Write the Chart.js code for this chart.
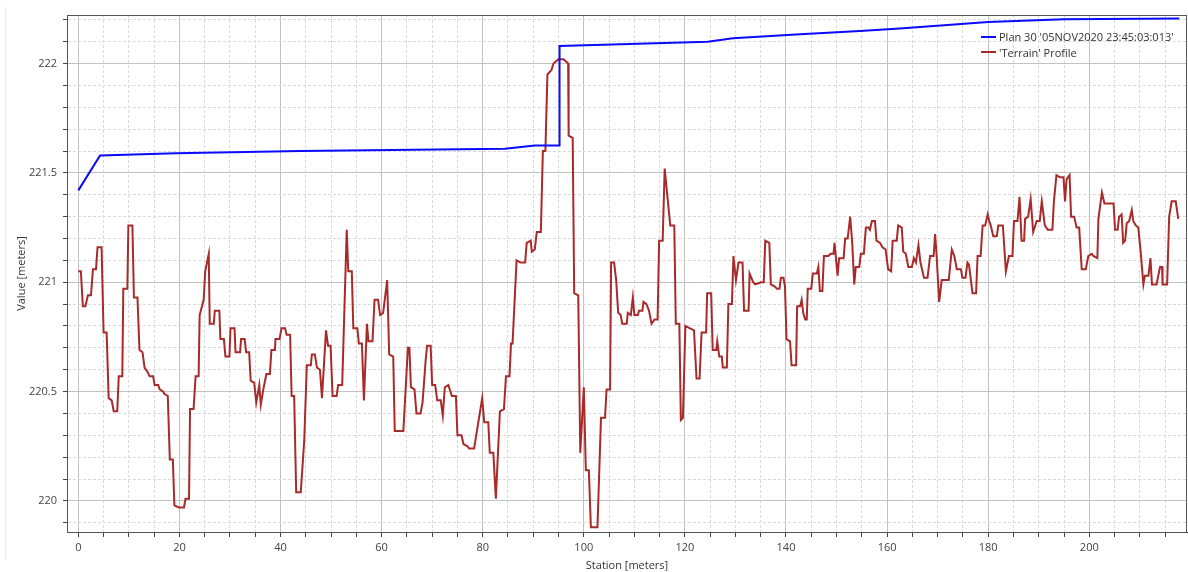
<!DOCTYPE html>
<html>
<head>
<meta charset="utf-8">
<script src="https://cdn.jsdelivr.net/npm/chart.js@4.4.0/dist/chart.umd.min.js"></script>
<style>
  body { margin: 0; background: #fff; }
  #wrap { position: relative; width: 1188px; height: 572px; }
  #edge { position: absolute; left: 5px; top: 7px; height: 553px; border-left: 1px solid #ececec; }
  #legend { position: absolute; left: 981px; top: 29px; font: 11px "Open Sans", sans-serif; color: #333; }
  #legend .item { display: flex; align-items: center; height: 15.5px; white-space: nowrap; }
  #legend .swatch { width: 15px; height: 2px; margin-right: 3px; }
</style>
</head>
<body>
<div id="wrap">
  <div id="edge"></div>
  <canvas id="profile" width="1188" height="572"></canvas>
  <div id="legend"></div>
</div>
<script>
// water surface along the reach
const wseStation = [0.0, 4.3, 19.3, 44.0, 84.4, 90.3, 95.1, 95.2, 124.5, 129.5, 142.8, 154.6, 162.5, 180.0, 195.0, 217.8];
const wseElev = [221.42, 221.58, 221.59, 221.60, 221.61, 221.625, 221.625, 222.08, 222.10, 222.116, 222.134, 222.149, 222.16, 222.19, 222.203, 222.206];

// ground profile
const terrainStation = [
  0.0, 0.5, 0.9, 1.4, 1.9, 2.5, 2.9, 3.5, 3.8, 4.6, 5.0, 5.6, 6.0, 6.6, 7.0, 7.7, 8.0, 8.7, 8.9, 9.7,
  9.9, 10.7, 11.0, 11.7, 12.1, 12.7, 13.1, 13.7, 14.1, 14.8, 15.1, 15.8, 16.1, 16.8, 17.0, 17.7, 18.1, 18.7, 19.0, 19.9,
  20.3, 20.9, 21.2, 21.9, 22.1, 22.8, 23.2, 23.8, 24.0, 24.8, 25.1, 25.8, 26.0, 26.8, 27.0, 27.9, 28.1, 28.8, 29.1, 29.9,
  30.1, 30.9, 31.1, 32.0, 32.2, 32.9, 33.2, 33.8, 34.1, 34.8, 35.2, 35.8, 36.1, 36.6, 37.2, 37.9, 38.2, 38.9,
  39.0, 39.8, 40.2, 40.9, 41.2, 41.9, 42.2, 42.7, 43.1, 44.0, 44.3, 44.7, 45.2, 46.0, 46.2, 46.8, 47.2, 47.8, 48.2, 49.0,
  49.4, 49.9, 50.3, 51.1, 51.4, 52.2, 53.1, 53.4, 54.1, 54.4, 55.2, 55.5, 56.1, 56.5, 57.1, 57.4, 58.2, 58.6, 59.3, 59.7,
  60.3, 61.1, 61.5, 62.3, 62.6, 64.3, 65.2, 65.5, 65.8, 66.5, 66.9, 67.7, 68.1, 68.7, 69.0, 69.7, 70.0, 70.6, 71.0, 71.7,
  72.1, 72.5, 73.2, 73.9, 74.7, 75.0, 75.8, 76.2, 77.0, 77.3, 78.3, 79.9, 80.3, 81.1,
  81.4, 82.1, 82.6, 83.4, 84.2, 84.6, 85.3, 85.6, 85.9, 86.7, 87.5, 88.4, 88.7, 89.5, 89.7, 90.3, 90.7, 91.5, 91.9, 92.4,
  92.8, 93.2, 93.6, 94.0, 94.5, 95.0, 95.4, 96.0, 96.9, 97.0, 97.8, 98.1, 98.9, 99.3, 100.0, 100.4, 101.0, 101.4, 102.7, 103.4,
  104.2, 104.5, 105.2, 105.4, 106.0, 106.4, 106.8, 107.3, 107.6, 108.5, 108.7, 109.3, 109.7, 110.0, 110.7, 110.9, 111.6, 111.8, 112.4, 112.9,
  113.4, 114.0, 114.6, 114.9, 115.6, 116.0, 117.1, 117.9, 118.2, 118.9, 119.2, 119.6, 120.1, 120.9, 121.8, 122.3, 122.9,
  123.3, 124.2, 124.4, 125.2, 125.5, 126.2, 126.4, 126.8, 127.3, 127.5, 128.3, 128.6, 129.3, 129.6, 130.1, 130.6, 131.4, 131.7, 132.6, 132.8,
  133.5, 133.9, 135.1, 135.6, 135.9, 136.7, 137.0, 137.8, 138.2, 138.7, 139.0, 139.5, 139.8, 140.1, 140.8, 141.1, 142.0, 142.2, 142.8, 143.1,
  143.4, 143.8, 144.1, 144.3, 145.0, 145.3, 146.1, 146.4, 146.7, 147.2, 147.5, 148.4, 148.8, 149.4, 149.6, 150.2, 150.5, 151.4, 151.7, 152.2,
  152.7, 153.1, 153.5, 153.8, 154.5, 154.8, 155.4, 155.8, 156.3, 156.6, 157.0, 157.6, 157.9, 158.6, 159.1, 159.7, 160.2, 160.8, 161.1, 161.9,
  162.2, 162.9, 163.2, 163.7, 164.2, 164.9, 165.3, 165.7, 166.2, 166.6, 167.3, 168.0, 168.5, 169.2, 169.5, 169.8,
  170.3, 170.8, 171.6, 172.2, 172.8, 173.3, 173.8, 174.6, 174.9, 175.5, 175.9, 176.2, 176.9, 177.6, 177.9, 178.5, 178.9, 179.4, 179.9, 180.2,
  180.5, 181.0, 181.7, 182.0, 182.9, 183.5, 184.1, 184.8, 185.1, 185.8, 186.2, 186.6, 187.1, 187.3, 187.9, 188.4, 188.9, 189.6, 190.2, 190.6,
  191.2, 191.8, 192.7, 193.0, 193.5, 194.2, 194.9, 195.2, 195.5, 196.1, 196.4, 197.0, 197.5, 198.0, 198.5, 199.3, 199.8, 200.5, 200.8, 201.6,
  201.8, 202.5, 203.0, 203.8, 204.8, 205.1, 205.6, 205.9, 206.4, 206.7, 207.1, 207.4, 207.9, 208.4, 208.7, 209.2, 209.7, 210.2, 210.7, 211.0,
  211.7, 212.1, 212.4, 213.3, 214.0, 214.4, 214.5, 215.4, 215.8, 216.3, 217.1, 217.6
];
const terrainElev = [
  221.05, 221.05, 220.89, 220.89, 220.94, 220.94, 221.06, 221.06, 221.16, 221.16, 220.77, 220.77, 220.47, 220.46, 220.41, 220.41, 220.57, 220.57, 220.97, 220.97,
  221.26, 221.26, 220.93, 220.93, 220.69, 220.68, 220.61, 220.59, 220.57, 220.57, 220.53, 220.53, 220.51, 220.50, 220.49, 220.48, 220.19, 220.19, 219.98, 219.97,
  219.97, 219.97, 220.01, 220.01, 220.42, 220.42, 220.57, 220.57, 220.85, 220.92, 221.05, 221.13, 220.81, 220.81, 220.87, 220.87, 220.74, 220.74, 220.66, 220.66,
  220.79, 220.79, 220.68, 220.68, 220.74, 220.74, 220.68, 220.68, 220.55, 220.54, 220.45, 220.53, 220.44, 220.51, 220.58, 220.58, 220.69, 220.69,
  220.74, 220.74, 220.79, 220.79, 220.76, 220.76, 220.48, 220.48, 220.04, 220.04, 220.14, 220.28, 220.62, 220.62, 220.67, 220.67, 220.61, 220.60, 220.47, 220.78,
  220.71, 220.71, 220.48, 220.48, 220.53, 220.53, 221.24, 221.05, 221.05, 220.79, 220.79, 220.72, 220.72, 220.46, 220.81, 220.73, 220.73, 220.92, 220.92, 220.85,
  220.86, 221.01, 220.67, 220.66, 220.32, 220.32, 220.70, 220.70, 220.52, 220.51, 220.40, 220.40, 220.45, 220.64, 220.71, 220.71, 220.53, 220.53, 220.46, 220.46,
  220.39, 220.52, 220.53, 220.48, 220.48, 220.30, 220.30, 220.26, 220.25, 220.24, 220.24, 220.47, 220.36, 220.36,
  220.22, 220.22, 220.01, 220.41, 220.42, 220.57, 220.57, 220.72, 220.72, 221.10, 221.09, 221.09, 221.18, 221.19, 221.14, 221.15, 221.23, 221.23, 221.60, 221.60,
  221.95, 221.96, 221.97, 222.00, 222.01, 222.02, 222.02, 222.02, 222.00, 221.67, 221.66, 220.95, 220.94, 220.22, 220.52, 220.14, 220.14, 219.88, 219.88, 220.38,
  220.38, 220.51, 220.51, 221.09, 221.09, 221.01, 220.86, 220.85, 220.81, 220.81, 220.86, 220.85, 220.93, 220.85, 220.85, 220.87, 220.87, 220.91, 220.90, 220.87,
  220.81, 220.83, 220.83, 221.19, 221.19, 221.52, 221.26, 221.26, 220.81, 220.81, 220.37, 220.38, 220.80, 220.79, 220.78, 220.56, 220.56,
  220.77, 220.77, 220.95, 220.95, 220.69, 220.69, 220.73, 220.66, 220.66, 220.61, 220.61, 220.90, 220.90, 221.12, 221.01, 221.09, 221.09, 220.87, 220.87, 221.04,
  221.00, 220.99, 221.00, 221.00, 221.19, 221.18, 220.99, 220.98, 220.97, 220.97, 221.02, 221.02, 220.98, 220.74, 220.73, 220.62, 220.62, 220.89, 220.89, 220.92,
  220.86, 220.83, 220.83, 220.97, 220.97, 221.04, 221.04, 221.07, 220.96, 220.96, 221.12, 221.12, 221.13, 221.13, 221.18, 221.03, 221.11, 221.11, 221.20, 221.20,
  221.30, 221.18, 220.99, 221.07, 221.07, 221.13, 221.13, 221.25, 221.25, 221.24, 221.28, 221.28, 221.19, 221.18, 221.16, 221.15, 221.06, 221.05, 221.19, 221.19,
  221.26, 221.25, 221.14, 221.13, 221.07, 221.07, 221.11, 221.09, 221.17, 221.09, 221.02, 221.02, 221.12, 221.12, 221.22, 221.12,
  220.91, 221.01, 221.01, 221.01, 221.15, 221.12, 221.06, 221.06, 221.02, 221.02, 221.09, 221.08, 220.95, 220.95, 221.12, 221.12, 221.26, 221.26, 221.31, 221.28,
  221.26, 221.21, 221.21, 221.26, 221.26, 221.05, 221.12, 221.12, 221.28, 221.28, 221.39, 221.19, 221.19, 221.29, 221.30, 221.38, 221.23, 221.28, 221.28, 221.37,
  221.26, 221.24, 221.24, 221.37, 221.49, 221.48, 221.48, 221.37, 221.47, 221.49, 221.30, 221.30, 221.25, 221.25, 221.06, 221.06, 221.12, 221.13, 221.12, 221.11,
  221.29, 221.41, 221.36, 221.36, 221.36, 221.24, 221.24, 221.30, 221.31, 221.18, 221.19, 221.27, 221.28, 221.33, 221.28, 221.26, 221.25, 221.13, 220.99, 221.03,
  221.03, 221.11, 220.99, 220.99, 221.07, 221.07, 220.99, 220.99, 221.30, 221.37, 221.37, 221.29
];

const seriesNames = ["Plan 30 '05NOV2020 23:45:03:013'", "'Terrain' Profile"];
const seriesColors = ['#0a0aff', '#a82a2a'];

const toPoints = (xs, ys) => xs.map((x, i) => ({ x: x, y: ys[i] }));

const FONT = '"Open Sans", "Noto Sans", sans-serif';
const isMajorX = v => Math.round(v) % 20 === 0;
const isMajorY = v => Math.round(v * 10) % 5 === 0;

// box round the plot area
const frame = {
  id: 'frame',
  afterDraw(chart) {
    const { ctx, chartArea: a } = chart;
    ctx.save();
    ctx.strokeStyle = '#555';
    ctx.lineWidth = 1;
    ctx.strokeRect(a.left + 0.5, a.top + 0.5, a.right - a.left - 1, a.bottom - a.top);
    ctx.restore();
  }
};

const chart = new Chart(document.getElementById('profile'), {
  type: 'line',
  data: {
    datasets: [
      {
        label: seriesNames[0],
        data: toPoints(wseStation, wseElev),
        borderColor: seriesColors[0],
        borderWidth: 2,
        pointRadius: 0,
        tension: 0
      },
      {
        label: seriesNames[1],
        data: toPoints(terrainStation, terrainElev),
        borderColor: seriesColors[1],
        borderWidth: 2,
        pointRadius: 0,
        tension: 0
      }
    ]
  },
  options: {
    responsive: false,
    animation: false,
    devicePixelRatio: 1,
    layout: { padding: { top: 15, right: 1, left: 0, bottom: 0 } },
    plugins: {
      legend: { display: false },
      tooltip: { enabled: false }
    },
    scales: {
      x: {
        type: 'linear',
        min: -2.24,
        max: 219.33,
        afterFit: s => { s.height = 40; },
        ticks: {
          stepSize: 5,
          autoSkip: false,
          maxRotation: 0,
          includeBounds: false,
          padding: 4,
          color: '#444',
          font: { family: FONT, size: 11 },
          callback: v => (isMajorX(v) ? String(Math.round(v)) : '')
        },
        grid: {
          color: c => (c.tick && isMajorX(c.tick.value) ? '#c2c2c2' : '#dadada'),
          tickColor: '#444',
          tickLength: 5
        },
        border: {
          color: '#444',
          dash: c => (c.tick && !isMajorX(c.tick.value) ? [3, 2] : [])
        },
        title: {
          display: true,
          text: 'Station [meters]',
          color: '#333',
          font: { family: FONT, size: 11 },
          padding: { top: 0, bottom: 0 }
        }
      },
      y: {
        min: 219.858,
        max: 222.222,
        afterFit: s => { s.width = 67; },
        ticks: {
          stepSize: 0.1,
          autoSkip: false,
          includeBounds: false,
          padding: 6,
          color: '#444',
          font: { family: FONT, size: 11 },
          callback: v => (isMajorY(v) ? String(Math.round(v * 10) / 10) : '')
        },
        grid: {
          color: c => (c.tick && isMajorY(c.tick.value) ? '#c2c2c2' : '#dadada'),
          tickColor: '#444',
          tickLength: 4
        },
        border: {
          color: '#444',
          dash: c => (c.tick && !isMajorY(c.tick.value) ? [3, 2] : [])
        },
        title: {
          display: true,
          text: 'Value [meters]',
          color: '#333',
          font: { family: FONT, size: 11 },
          padding: { top: 15, bottom: 0 }
        }
      }
    }
  },
  plugins: [frame]
});

// legend sits inside the plot, top right
const legend = document.getElementById('legend');
chart.data.datasets.forEach(ds => {
  const row = document.createElement('div');
  row.className = 'item';
  const sw = document.createElement('span');
  sw.className = 'swatch';
  sw.style.background = ds.borderColor;
  const txt = document.createElement('span');
  txt.textContent = ds.label;
  row.appendChild(sw);
  row.appendChild(txt);
  legend.appendChild(row);
});
</script>
</body>
</html>
